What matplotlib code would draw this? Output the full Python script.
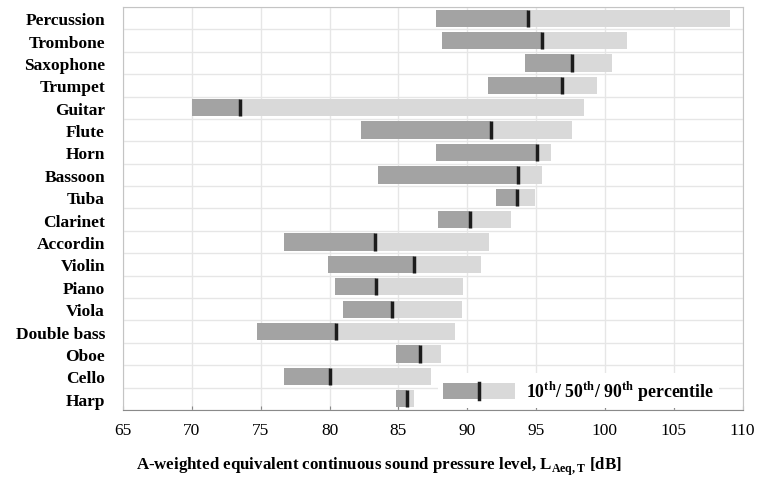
import numpy as np
import matplotlib
matplotlib.use("Agg")
import matplotlib.pyplot as plt
from matplotlib.patches import Rectangle
from matplotlib.lines import Line2D
from matplotlib.legend_handler import HandlerBase

plt.rcParams['font.family'] = 'Liberation Serif'
plt.rcParams['mathtext.fontset'] = 'custom'
plt.rcParams['mathtext.rm'] = 'Liberation Serif:bold'

# percentiles of L_Aeq,T per instrument (top to bottom)
instruments = ["Percussion", "Trombone", "Saxophone", "Trumpet", "Guitar", "Flute",
               "Horn", "Bassoon", "Tuba", "Clarinet", "Accordin", "Violin", "Piano",
               "Viola", "Double bass", "Oboe", "Cello", "Harp"]
p10 = [87.7, 88.2, 94.2, 91.5, 70.0, 82.3, 87.7, 83.5, 92.1, 87.9, 76.7, 79.9, 80.4,
       81.0, 74.7, 84.8, 76.7, 84.8]
p50 = [94.4, 95.4, 97.6, 96.9, 73.5, 91.7, 95.1, 93.7, 93.6, 90.2, 83.3, 86.1, 83.4,
       84.5, 80.5, 86.6, 80.0, 85.6]
p90 = [109.1, 101.6, 100.5, 99.4, 98.5, 97.6, 96.1, 95.4, 94.9, 93.2, 91.6, 91.0, 89.7,
       89.6, 89.1, 88.1, 87.4, 86.1]

dark = '#a3a3a3'
light = '#d9d9d9'
med_c = '#1c1c1c'
bar_h = 0.77

fig = plt.figure(figsize=(7.57, 4.85), dpi=100)
ax = fig.add_axes([0.1625, 0.1526, 0.8185, 0.831])

y = np.arange(len(instruments))
lo = np.array(p10); md = np.array(p50); hi = np.array(p90)
ax.barh(y, md - lo, left=lo, height=bar_h, color=dark, zorder=2)
ax.barh(y, hi - md, left=md, height=bar_h, color=light, zorder=2)
ax.vlines(md, y - bar_h / 2, y + bar_h / 2, color=med_c, lw=2.5, zorder=3)

ax.set_xlim(65, 110)
ax.set_ylim(len(instruments) - 0.5, -0.5)
ax.set_xticks(np.arange(65, 111, 5))
ax.set_yticks(y)
ax.set_yticklabels(instruments, fontweight='bold', fontsize=12.5)
ax.set_yticks(np.arange(-0.5, len(instruments), 1), minor=True)
ax.tick_params(axis='y', which='both', length=0, pad=13)
ax.tick_params(axis='x', direction='in', length=3, color='#888888', labelsize=12.5, pad=9)
ax.grid(axis='x', which='major', color='#e6e6e6', lw=1, zorder=0)
ax.grid(axis='y', which='minor', color='#e6e6e6', lw=1, zorder=0)
ax.set_axisbelow(True)
for s in ['top', 'left', 'right']:
    ax.spines[s].set_color('#c4c4c4')
ax.spines['bottom'].set_color('#8a8a8a')

fig.text(0.5, 0.03, r"A-weighted equivalent continuous sound pressure level, L$_{\mathrm{Aeq,T}}$ [dB]",
         ha='center', va='baseline', fontsize=12.2, fontweight='bold')


class PercentileHandler(HandlerBase):
    def create_artists(self, legend, orig_handle, xdescent, ydescent, width, height,
                       fontsize, trans):
        x0, y0 = -xdescent, -ydescent
        a = Rectangle((x0, y0), width * 0.5, height, facecolor=dark, transform=trans)
        b = Rectangle((x0 + width * 0.5, y0), width * 0.5, height, facecolor=light, transform=trans)
        m = Line2D([x0 + width * 0.5] * 2, [y0, y0 + height], color=med_c, lw=2.5, transform=trans)
        return [a, b, m]


key = Rectangle((0, 0), 1, 1)
leg = ax.legend([key], [r"10$^{\mathrm{th}}$/ 50$^{\mathrm{th}}$/ 90$^{\mathrm{th}}$ percentile"],
                handler_map={Rectangle: PercentileHandler()},
                loc='lower right', bbox_to_anchor=(0.965, 0.0), borderaxespad=0.1,
                frameon=True, fancybox=False, framealpha=1, edgecolor='none',
                prop={'weight': 'bold', 'size': 12.8},
                handlelength=4.05, handleheight=1.05, handletextpad=0.6, borderpad=0.3)

fig.savefig('out.png', dpi=100)
